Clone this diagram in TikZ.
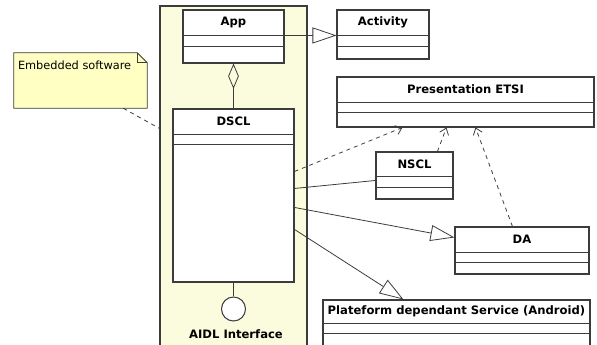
\documentclass[tikz,border=0pt]{standalone}
\usepackage{fontspec}
\setmainfont{DejaVu Sans}
\usetikzlibrary{arrows.meta,calc,fit}
\definecolor{pkgfill}{RGB}{251,251,222}
\definecolor{notefill}{RGB}{255,255,196}
\definecolor{umlline}{RGB}{60,60,60}
\tikzset{
  classbox/.style={draw=umlline, fill=white, inner sep=0pt, line width=0.8pt},
  classname/.style={font=\bfseries\fontsize{8.7}{10}\selectfont, inner sep=0.75pt},
  compart/.style={draw=umlline, line width=0.6pt},
  assoc/.style={draw=umlline, line width=0.6pt},
  generalize/.style={assoc, -{Triangle[open,length=18pt,width=12pt]}},
  depends/.style={assoc, dashed, -{Straight Barb[length=4.5pt,width=7pt]}},
}
\begin{document}
\begin{tikzpicture}[x=0.75pt,y=0.75pt,yscale=-1,xscale=1]
\useasboundingbox (0,0) rectangle (597,345);
\clip (0,0) rectangle (597,345);
%Shape: Package [id:emb]
\node [draw=umlline, fill=pkgfill, inner sep=0pt, line width=0.8pt, fit={(160,6) (307,352)}] (emb) {};
%Shape: Note [id:note]
\node [inner sep=0pt, fit={(14,53) (147,108)}] (note) {};
\draw [draw=umlline, fill=notefill, line width=0.6pt] (note.north west) -- ($(note.north east)+(-10,0)$) -- ($(note.north east)+(0,10)$) -- (note.south east) -- (note.south west) -- cycle ;
\draw [draw=umlline, line width=0.6pt] ($(note.north east)+(-10,0)$) -- ($(note.north east)+(-10,10)$) -- ($(note.north east)+(0,10)$) ;
% Text Node
\node [anchor=west, inner sep=0.75pt, font=\fontsize{8.5}{10}\selectfont] (note-t) at ($(note.north west)+(3,13)$) {Embedded software};
%Shape: Class [id:app]
\node [classbox, fit={(183,10) (284,63)}] (app) {};
\draw [compart] ($(app.north west)+(0,26)$) -- ($(app.north east)+(0,26)$) ;
\draw [compart] ($(app.north west)+(0,37)$) -- ($(app.north east)+(0,37)$) ;
\node [classname] (app-t) at ($(app.north)+(0,13)$) {App};
%Shape: Class [id:act]
\node [classbox, fit={(337,10) (429,59)}] (act) {};
\draw [compart] ($(act.north west)+(0,26)$) -- ($(act.north east)+(0,26)$) ;
\draw [compart] ($(act.north west)+(0,37)$) -- ($(act.north east)+(0,37)$) ;
\node [classname] (act-t) at ($(act.north)+(0,13)$) {Activity};
%Shape: Class [id:etsi]
\node [classbox, fit={(337,77) (594,127)}] (etsi) {};
\draw [compart] ($(etsi.north west)+(0,26)$) -- ($(etsi.north east)+(0,26)$) ;
\draw [compart] ($(etsi.north west)+(0,36)$) -- ($(etsi.north east)+(0,36)$) ;
\node [classname] (etsi-t) at ($(etsi.north)+(0,13)$) {Presentation ETSI};
%Shape: Class [id:dscl]
\node [classbox, fit={(173,109) (294,282)}] (dscl) {};
\draw [compart] ($(dscl.north west)+(0,26)$) -- ($(dscl.north east)+(0,26)$) ;
\draw [compart] ($(dscl.north west)+(0,36)$) -- ($(dscl.north east)+(0,36)$) ;
\node [classname] (dscl-t) at ($(dscl.north)+(0,13)$) {DSCL};
%Shape: Class [id:nscl]
\node [classbox, fit={(376,152) (453,199)}] (nscl) {};
\draw [compart] ($(nscl.north west)+(0,25)$) -- ($(nscl.north east)+(0,25)$) ;
\draw [compart] ($(nscl.north west)+(0,36)$) -- ($(nscl.north east)+(0,36)$) ;
\node [classname] (nscl-t) at ($(nscl.north)+(0,12.5)$) {NSCL};
%Shape: Class [id:da]
\node [classbox, fit={(455,227) (589,274)}] (da) {};
\draw [compart] ($(da.north west)+(0,26)$) -- ($(da.north east)+(0,26)$) ;
\draw [compart] ($(da.north west)+(0,36)$) -- ($(da.north east)+(0,36)$) ;
\node [classname] (da-t) at ($(da.north)+(0,13)$) {DA};
%Shape: Class [id:srv]
\node [classbox, fit={(323,300) (590,352)}] (srv) {};
\draw [compart] ($(srv.north west)+(0,24)$) -- ($(srv.north east)+(0,24)$) ;
\draw [compart] ($(srv.north west)+(0,34)$) -- ($(srv.north east)+(0,34)$) ;
\node [classname] (srv-t) at ($(srv.north)+(0,12)$) {Plateform dependant Service (Android)};
%Shape: Interface [id:aidl]
\node [draw=umlline, fill=white, circle, inner sep=0pt, minimum size=18pt, line width=0.8pt] (aidl) at (233.5,309) {};
\node [classname] (aidl-t) at (236,334) {AIDL Interface};
% Connectors
\draw [assoc, dashed] ($(note.south east)+(-24,0)$) -- ($(emb.north west)+(0,123)$) ;
\draw [assoc, -{Diamond[open,length=19pt,width=8pt]}] (dscl.north) -- (app.south) ;
\draw [generalize] ($(app.north east)+(0,26)$) -- ($(act.north west)+(0,26)$) ;
\draw [assoc] (dscl.south) -- (aidl.north) ;
\draw [depends] ($(dscl.north east)+(0,63)$) -- ($(etsi.south west)+(66,0)$) ;
\draw [depends] ($(nscl.north west)+(62,0)$) -- ($(etsi.south west)+(110,0)$) ;
\draw [depends] ($(da.north west)+(58,0)$) -- ($(etsi.south west)+(139,0)$) ;
\draw [assoc] ($(dscl.north east)+(0,80)$) -- ($(nscl.north west)+(0,29)$) ;
\draw [generalize] ($(dscl.north east)+(0,99)$) -- ($(da.north west)+(0,11)$) ;
\draw [generalize] ($(dscl.north east)+(0,121)$) -- ($(srv.north west)+(81,0)$) ;
\end{tikzpicture}
\end{document}
